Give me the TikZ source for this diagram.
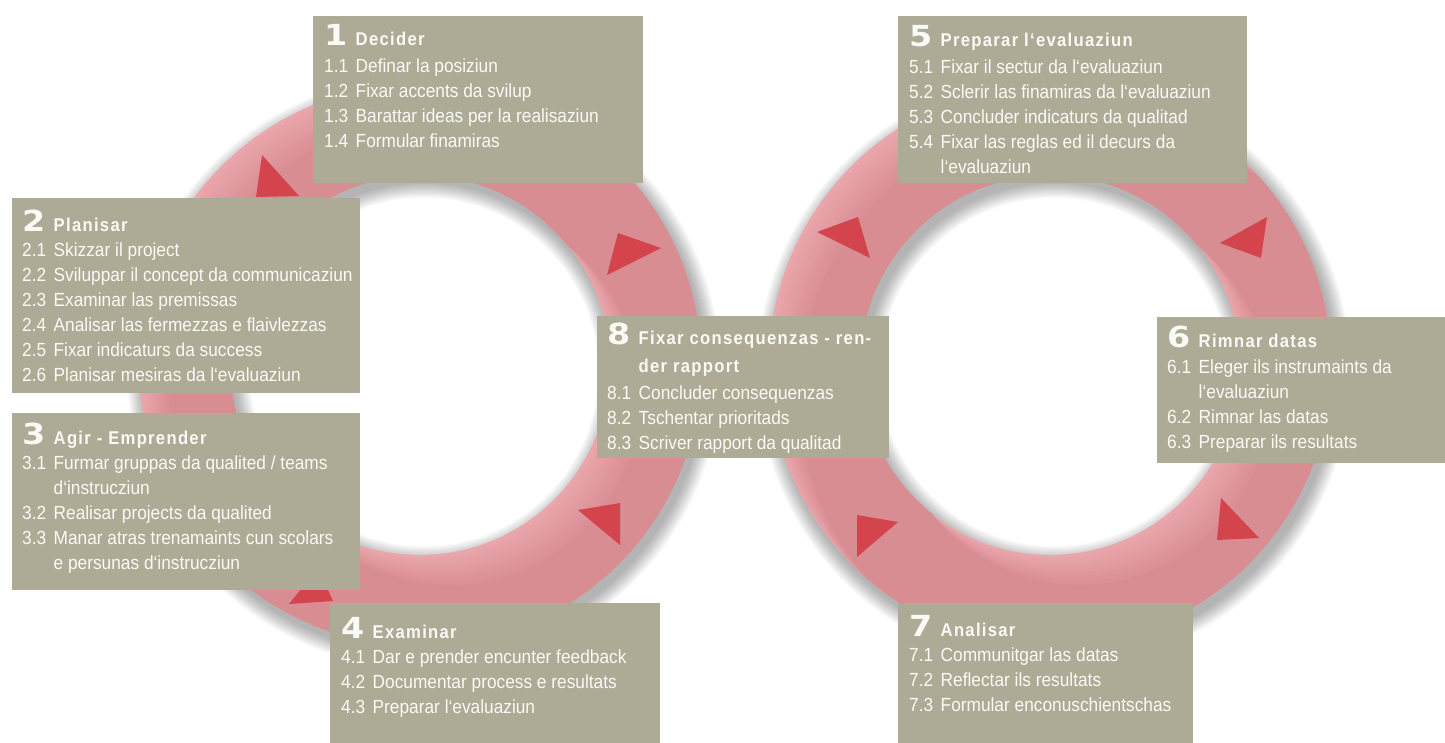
\documentclass[tikz,border=0pt]{standalone}
\usepackage{fontspec}
\setmainfont{Liberation Sans}
\newfontfamily\itemfont{Liberation Sans}[FakeStretch=0.91]
\newfontfamily\titlefont{Liberation Sans}[FakeStretch=0.9,LetterSpace=7]
\newfontfamily\bignumfont{DejaVu Sans}[FakeStretch=1.15]
\definecolor{boxc}{RGB}{173,171,149}
\definecolor{ringc}{RGB}{216,141,147}
\definecolor{ringlight}{RGB}{234,166,171}
\definecolor{arrowc}{RGB}{212,68,77}
\definecolor{txtc}{RGB}{250,250,246}
\newcommand\stepnum[1]{\makebox[31.5pt][l]{\fontsize{29}{29}\bignumfont\bfseries #1}}
\newcommand\steptitle[1]{{\fontsize{18.5}{20}\titlefont\bfseries #1}}
\newcommand\subnum[1]{\makebox[31.5pt][l]{#1}}
\newcommand\ringat[2]{%
  \foreach \w in {1,...,16}{%
    \draw[line width={(91+2*\w)*1pt}, black, opacity=0.02] (#1+4,#2+7) circle[radius=235.5];}
  \begin{scope}[even odd rule]
    \clip (#1,#2) circle[radius=281] (#1,#2) circle[radius=190];
    \foreach \k in {0,...,10}{%
      \pgfmathtruncatemacro\p{100-10*\k}%
      \draw[line width=91pt, ringlight!\p!ringc] (#1+3*\k,#2+3*\k) circle[radius=235.5];}
  \end{scope}}
\tikzset{
  box/.style={fill=boxc, draw=none, inner sep=0pt, anchor=north west},
  txt/.style={inner sep=0pt, text=txtc, font=\fontsize{19}{25}\itemfont, anchor=base west},
  tri/.style={fill=arrowc, draw=none}
}
\begin{document}
\begin{tikzpicture}[x=1pt,y=-1pt]
\useasboundingbox (0,0) rectangle (1445,743);
\fill[white] (0,0) rectangle (1445,743);
% rings
\ringat{420}{365}
\ringat{1050}{365}
% arrow heads
\fill[tri] (262,155) -- (256,197) -- (299,196) -- cycle;
\fill[tri] (618,233) -- (607,275) -- (661,248) -- cycle;
\fill[tri] (578,510) -- (620,503) -- (620,545) -- cycle;
\fill[tri] (318,568) -- (289,604) -- (333,601) -- cycle;
\fill[tri] (817,232) -- (858,217) -- (870,258) -- cycle;
\fill[tri] (1220,243) -- (1267,217) -- (1261,258) -- cycle;
\fill[tri] (1221,498) -- (1217,540) -- (1259,538) -- cycle;
\fill[tri] (857,515) -- (898,522) -- (857,557) -- cycle;
% boxes
\node[box, minimum width=330pt, minimum height=167pt] (b1) at (313,16) {};
\node[box, minimum width=348pt, minimum height=195pt] (b2) at (12,198) {};
\node[box, minimum width=348pt, minimum height=177pt] (b3) at (12,413) {};
\node[box, minimum width=330pt, minimum height=140pt] (b4) at (330,603) {};
\node[box, minimum width=349pt, minimum height=167pt] (b5) at (898,16) {};
\node[box, minimum width=288pt, minimum height=146pt] (b6) at (1157,317) {};
\node[box, minimum width=295pt, minimum height=140pt] (b7) at (898,603) {};
\node[box, minimum width=292pt, minimum height=142pt] (b8) at (597,316) {};
% texts
\node[txt] (t1) at (324,46) {\begin{tabular}[t]{@{}l@{}l@{}}
\stepnum{1} & \steptitle{Decider}\\[2pt]
\subnum{1.1} & Definar la posiziun\\
\subnum{1.2} & Fixar accents da svilup\\
\subnum{1.3} & Barattar ideas per la realisaziun\\
\subnum{1.4} & Formular finamiras
\end{tabular}};
\node[txt] (t2) at (22,232) {\begin{tabular}[t]{@{}l@{}l@{}}
\stepnum{2} & \steptitle{Planisar}\\
\subnum{2.1} & Skizzar il project\\
\subnum{2.2} & Sviluppar il concept da communicaziun\\
\subnum{2.3} & Examinar las premissas\\
\subnum{2.4} & Analisar las fermezzas e flaivlezzas\\
\subnum{2.5} & Fixar indicaturs da success\\
\subnum{2.6} & Planisar mesiras da l‘evaluaziun
\end{tabular}};
\node[txt] (t3) at (22,444) {\begin{tabular}[t]{@{}l@{}l@{}}
\stepnum{3} & \steptitle{Agir - Emprender}\\
\subnum{3.1} & Furmar gruppas da qualited / teams\\
 & d‘instrucziun\\
\subnum{3.2} & Realisar projects da qualited\\
\subnum{3.3} & Manar atras trenamaints cun scolars\\
 & e persunas d‘instrucziun
\end{tabular}};
\node[txt] (t4) at (341,638) {\begin{tabular}[t]{@{}l@{}l@{}}
\stepnum{4} & \steptitle{Examinar}\\
\subnum{4.1} & Dar e prender encunter feedback\\
\subnum{4.2} & Documentar process e resultats\\
\subnum{4.3} & Preparar l‘evaluaziun
\end{tabular}};
\node[txt] (t5) at (909,47) {\begin{tabular}[t]{@{}l@{}l@{}}
\stepnum{5} & \steptitle{Preparar l‘evaluaziun}\\[2pt]
\subnum{5.1} & Fixar il sectur da l‘evaluaziun\\
\subnum{5.2} & Sclerir las finamiras da l‘evaluaziun\\
\subnum{5.3} & Concluder indicaturs da qualitad\\
\subnum{5.4} & Fixar las reglas ed il decurs da\\
 & l‘evaluaziun
\end{tabular}};
\node[txt] (t6) at (1167,347) {\begin{tabular}[t]{@{}l@{}l@{}}
\stepnum{6} & \steptitle{Rimnar datas}\\[1pt]
\subnum{6.1} & Eleger ils instrumaints da\\
 & l‘evaluaziun\\
\subnum{6.2} & Rimnar las datas\\
\subnum{6.3} & Preparar ils resultats
\end{tabular}};
\node[txt] (t7) at (909,636) {\begin{tabular}[t]{@{}l@{}l@{}}
\stepnum{7} & \steptitle{Analisar}\\
\subnum{7.1} & Communitgar las datas\\
\subnum{7.2} & Reflectar ils resultats\\
\subnum{7.3} & Formular enconuschientschas
\end{tabular}};
\node[txt] (t8) at (607,344) {\begin{tabular}[t]{@{}l@{}l@{}}
\stepnum{8} & \steptitle{Fixar consequenzas - ren-}\\[3pt]
 & \steptitle{der rapport}\\[2pt]
\subnum{8.1} & Concluder consequenzas\\
\subnum{8.2} & Tschentar prioritads\\
\subnum{8.3} & Scriver rapport da qualitad
\end{tabular}};
\end{tikzpicture}
\end{document}
